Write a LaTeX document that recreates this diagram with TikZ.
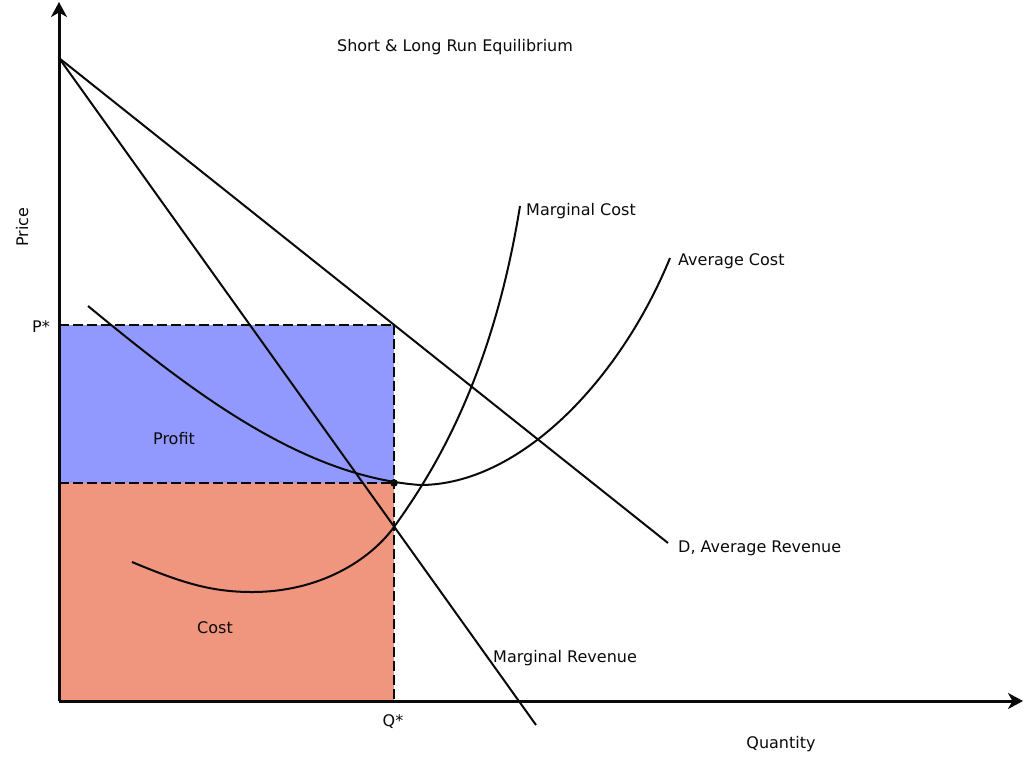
\documentclass[tikz,border=0pt]{standalone}
\usepackage{fontspec}
\setmainfont{DejaVu Sans}
\usetikzlibrary{arrows.meta}
\definecolor{profitblue}{RGB}{145,153,255}
\definecolor{costsalmon}{RGB}{240,149,126}
\definecolor{inkc}{RGB}{10,10,10}
\tikzset{
  axisline/.style={line width=3pt, -{Stealth[length=15pt,width=16pt,inset=4.5pt]}, inkc},
  curveline/.style={line width=2pt, inkc},
  guideline/.style={line width=1.9pt, inkc, dash pattern=on 10pt off 4pt},
  lbl/.style={font=\fontsize{16}{19}\selectfont, text=inkc, inner sep=0pt, anchor=base west},
}
\begin{document}
\begin{tikzpicture}[x=1pt,y=-1pt]
\useasboundingbox (0,0) rectangle (1024,761);
% regions
\fill[profitblue] (59,325) rectangle (394,483);
\fill[costsalmon] (59,483) rectangle (394,701);
% coordinates
\coordinate (O) at (59,701);
\coordinate (Ytop) at (59,2);
\coordinate (Xend) at (1023,701);
\coordinate (A) at (59,58);
\coordinate (Dpt) at (394,325);
\coordinate (Dend) at (668,543);
\coordinate (MRend) at (536,725);
\coordinate (E) at (394,483);
\coordinate (Pst) at (59,325);
\coordinate (Cst) at (59,483);
\coordinate (Qst) at (394,701);
% guide lines
\draw[guideline] (Pst) -- (Dpt);
\draw[guideline] (Cst) -- (E);
\draw[guideline] (Dpt) -- (Qst);
% demand and MR
\draw[curveline] (A) -- (Dend);
\draw[curveline] (A) -- (MRend);
% average cost
\draw[curveline] (88,306) .. controls (190,390) and (300,476) .. (420,485)
  .. controls (520,485) and (620,380) .. (670,258);
% marginal cost
\draw[curveline] (132,562) .. controls (180,582) and (210,592) .. (252,592)
  .. controls (320,592) and (370,560) .. (394,527)
  .. controls (432,474) and (492,380) .. (520,206);
% equilibrium dot
\fill[inkc] (E) circle (3.8pt);
% axes
\draw[axisline] (O) -- (Ytop);
\draw[axisline] (O) -- (Xend);
% labels
\node[lbl, anchor=base] (title) at (455,51) {Short \& Long Run Equilibrium};
\node[lbl] (mc) at (526,215) {Marginal Cost};
\node[lbl] (ac) at (678,265) {Average Cost};
\node[lbl] (dar) at (678,552) {D, Average Revenue};
\node[lbl] (mr) at (493,662) {Marginal Revenue};
\node[lbl, anchor=base] (qs) at (393,726) {Q*};
\node[lbl, anchor=base east] (ps) at (50,332) {P*};
\node[lbl, anchor=base] (profit) at (174,444) {Profit};
\node[lbl, anchor=base] (cost) at (215,633) {Cost};
\node[lbl, anchor=base] (qty) at (781,748) {Quantity};
\node[lbl, anchor=base, rotate=90] (price) at (28,227) {Price};
\end{tikzpicture}
\end{document}
